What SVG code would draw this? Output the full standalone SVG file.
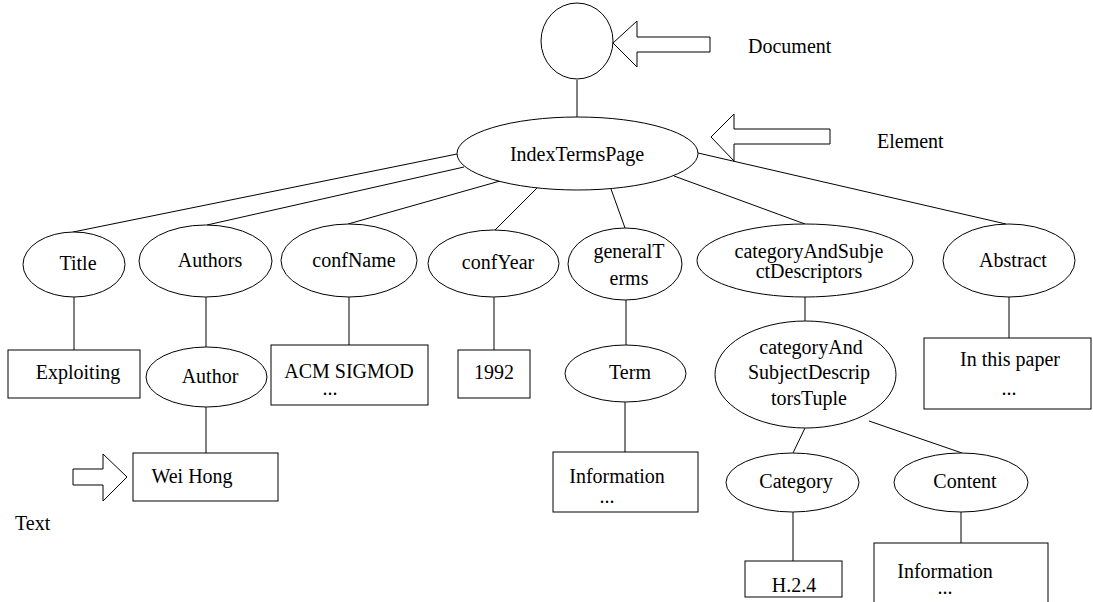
<svg xmlns="http://www.w3.org/2000/svg" width="1093" height="602" viewBox="0 0 1093 602">
<style>
.s{fill:#fff;stroke:#000;stroke-width:1}
.c line{stroke:#000;stroke-width:1}
text{font-family:"Liberation Serif","Times New Roman",serif;font-size:20px;fill:#000;text-anchor:middle}
.l{text-anchor:start}
</style>
<rect width="1093" height="602" fill="#fff"/>
<g id="connectors" class="c">
<line x1="577" y1="80" x2="577" y2="117"/>
<line x1="457" y1="154" x2="73" y2="232"/>
<line x1="464" y1="167" x2="207" y2="225"/>
<line x1="500" y1="181" x2="348" y2="224"/>
<line x1="537" y1="188" x2="495" y2="230"/>
<line x1="611" y1="189" x2="625" y2="228"/>
<line x1="674" y1="176" x2="805" y2="224"/>
<line x1="698" y1="153" x2="1006" y2="224"/>
<line x1="74" y1="297" x2="74" y2="350"/>
<line x1="206" y1="297" x2="206" y2="347"/>
<line x1="206" y1="407" x2="206" y2="453"/>
<line x1="349" y1="297" x2="349" y2="345"/>
<line x1="494" y1="297" x2="494" y2="350"/>
<line x1="626" y1="300" x2="626" y2="345"/>
<line x1="625" y1="402" x2="625" y2="452"/>
<line x1="805" y1="297" x2="805" y2="321"/>
<line x1="1009" y1="297" x2="1009" y2="338"/>
<line x1="805" y1="428" x2="793" y2="453"/>
<line x1="869" y1="421" x2="962" y2="453"/>
<line x1="793" y1="512" x2="793" y2="561"/>
<line x1="961" y1="512" x2="961" y2="543"/>
</g>
<g id="document"><ellipse class="s" cx="577" cy="41" rx="36" ry="38"/></g>
<g id="doc-arrow"><polygon class="s" points="613,43 637,21 637,37 710,37 710,52 637,52 637,67"/><text class="l" x="748" y="53">Document</text></g>
<g id="indexTermsPage"><ellipse class="s" cx="577.5" cy="153.5" rx="120.5" ry="36.5"/><text x="577" y="161">IndexTermsPage</text></g>
<g id="element-arrow"><polygon class="s" points="711,137 734,114 734,129 830,129 830,144 734,144 734,161"/><text class="l" x="877" y="148">Element</text></g>
<g id="title"><ellipse class="s" cx="74" cy="264.5" rx="51" ry="32.5"/><text x="78" y="270">Title</text></g>
<g id="authors"><ellipse class="s" cx="205.5" cy="261" rx="66.5" ry="36"/><text x="210" y="267">Authors</text></g>
<g id="confName"><ellipse class="s" cx="349" cy="260.5" rx="68" ry="36.5"/><text x="354" y="267">confName</text></g>
<g id="confYear"><ellipse class="s" cx="493.5" cy="263.5" rx="65.5" ry="33.5"/><text x="498" y="269">confYear</text></g>
<g id="generalTerms"><ellipse class="s" cx="625" cy="264" rx="57" ry="36"/><text x="629" y="258">generalT</text><text x="629" y="285">erms</text></g>
<g id="categoryAndSubjectDescriptors"><ellipse class="s" cx="805" cy="260.5" rx="108" ry="36.5"/><text x="809" y="258">categoryAndSubje</text><text x="809" y="278">ctDescriptors</text></g>
<g id="abstract"><ellipse class="s" cx="1009" cy="260.5" rx="66" ry="36.5"/><text x="1013" y="267">Abstract</text></g>
<g id="exploiting"><rect class="s" x="8" y="350" width="132" height="48"/><text x="78" y="379">Exploiting</text></g>
<g id="author"><ellipse class="s" cx="206.5" cy="377" rx="60.5" ry="30"/><text x="210" y="383">Author</text></g>
<g id="acm"><rect class="s" x="271" y="345" width="157" height="60"/><text x="349" y="378">ACM SIGMOD</text><text x="330" y="395">...</text></g>
<g id="y1992"><rect class="s" x="458" y="350" width="72" height="48"/><text x="494" y="379">1992</text></g>
<g id="term"><ellipse class="s" cx="625.5" cy="373.5" rx="60.5" ry="28.5"/><text x="630" y="379">Term</text></g>
<g id="tuple"><ellipse class="s" cx="805.5" cy="374.5" rx="90.5" ry="53.5"/><text x="811" y="354">categoryAnd</text><text x="809" y="379">SubjectDescrip</text><text x="809" y="405">torsTuple</text></g>
<g id="inThisPaper"><rect class="s" x="924" y="338" width="167" height="71"/><text x="1010" y="366">In this paper</text><text x="1009" y="395">...</text></g>
<g id="weiHong"><rect class="s" x="133" y="453" width="145" height="48"/><text x="192" y="483">Wei Hong</text></g>
<g id="text-arrow"><polygon class="s" points="73,469 103,469 103,454 127,477 103,501 103,485 73,485"/><text class="l" x="15" y="530">Text</text></g>
<g id="information1"><rect class="s" x="553" y="452" width="145" height="60"/><text x="617" y="483">Information</text><text x="607" y="503">...</text></g>
<g id="category"><ellipse class="s" cx="792.5" cy="482.5" rx="66.5" ry="29.5"/><text x="796" y="488">Category</text></g>
<g id="content"><ellipse class="s" cx="961" cy="482.5" rx="67" ry="29.5"/><text x="965" y="488">Content</text></g>
<g id="h24"><rect class="s" x="745" y="561" width="97" height="36"/><text x="794" y="592">H.2.4</text></g>
<g id="information2"><rect class="s" x="874" y="543" width="174" height="70"/><text x="945" y="578">Information</text><text x="945" y="594">...</text></g>
</svg>
